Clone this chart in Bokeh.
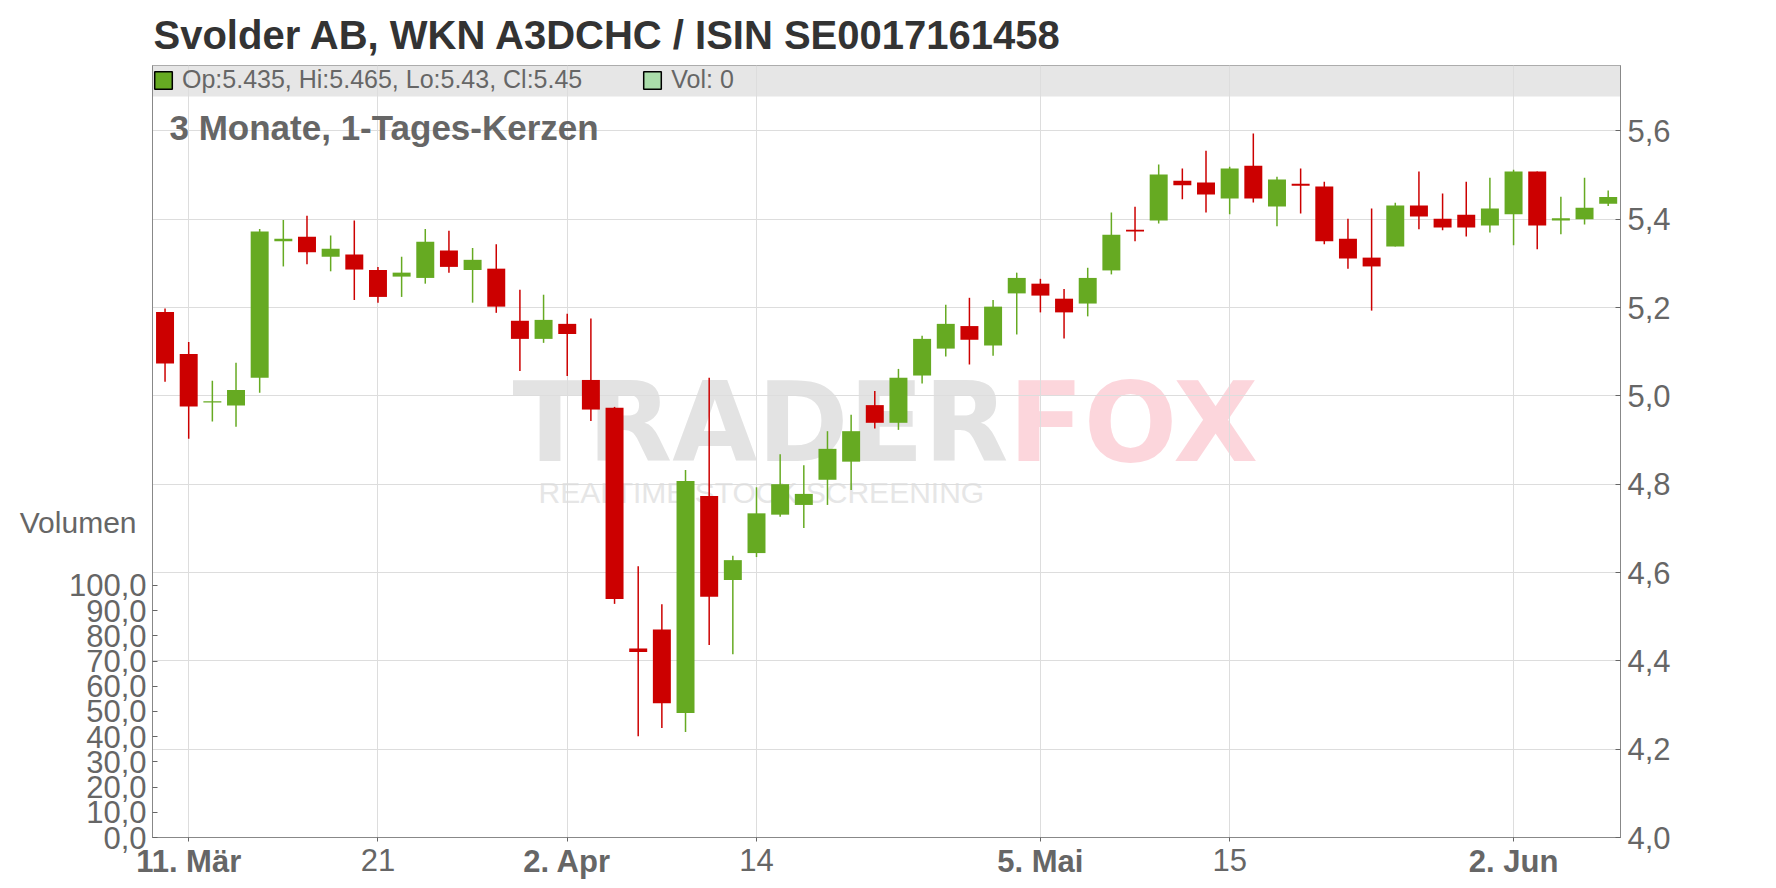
import pandas as pd
from bokeh.plotting import figure
from bokeh.models import (ColumnDataSource, Range1d, LinearAxis, FixedTicker,
                          CustomJSTickFormatter, Label, BoxAnnotation, Legend, LegendItem)
from bokeh.embed import file_html
from bokeh.resources import INLINE

# ---------------- data ----------------
holidays = ["2025-04-18", "2025-04-21", "2025-05-01"]
dates = [d for d in pd.bdate_range("2025-03-10", "2025-06-06")
         if d.strftime("%Y-%m-%d") not in holidays]

open_ = [5.190, 5.095, 4.985, 4.978, 5.041, 5.350, 5.360, 5.315, 5.320, 5.285,
         5.270, 5.267, 5.329, 5.285, 5.288, 5.170, 5.129, 5.163, 5.036, 4.973,
         4.428, 4.471, 4.282, 4.773, 4.583, 4.644, 4.731, 4.753, 4.810, 4.851,
         4.979, 4.939, 5.046, 5.107, 5.158, 5.114, 5.232, 5.254, 5.220, 5.209,
         5.284, 5.376, 5.397, 5.487, 5.483, 5.447, 5.521, 5.429, 5.480, 5.474,
         5.356, 5.313, 5.338, 5.431, 5.401, 5.410, 5.386, 5.411, 5.508, 5.397,
         5.400, 5.435]
high = [5.198, 5.122, 5.034, 5.075, 5.378, 5.398, 5.408, 5.363, 5.397, 5.292,
        5.315, 5.378, 5.374, 5.335, 5.343, 5.240, 5.229, 5.186, 5.175, 4.975,
        4.614, 4.528, 4.832, 5.041, 4.638, 4.793, 4.868, 4.843, 4.920, 4.957,
        5.011, 5.061, 5.136, 5.206, 5.222, 5.217, 5.279, 5.265, 5.242, 5.290,
        5.415, 5.428, 5.524, 5.515, 5.555, 5.519, 5.594, 5.496, 5.515, 5.485,
        5.401, 5.424, 5.437, 5.508, 5.458, 5.485, 5.494, 5.512, 5.508, 5.451,
        5.494, 5.465]
low = [5.032, 4.903, 4.942, 4.930, 5.007, 5.293, 5.298, 5.282, 5.217, 5.211,
       5.224, 5.254, 5.279, 5.211, 5.188, 5.056, 5.120, 5.045, 4.943, 4.529,
       4.229, 4.248, 4.239, 4.436, 4.415, 4.635, 4.726, 4.701, 4.753, 4.787,
       4.926, 4.923, 5.028, 5.089, 5.071, 5.091, 5.139, 5.189, 5.130, 5.180,
       5.275, 5.350, 5.390, 5.445, 5.415, 5.411, 5.438, 5.384, 5.413, 5.343,
       5.288, 5.193, 5.338, 5.377, 5.375, 5.361, 5.370, 5.341, 5.332, 5.366,
       5.388, 5.430]
close = [5.073, 4.976, 4.988, 5.013, 5.372, 5.356, 5.325, 5.333, 5.286, 5.224,
         5.279, 5.349, 5.292, 5.308, 5.202, 5.129, 5.172, 5.140, 4.969, 4.540,
         4.420, 4.304, 4.807, 4.545, 4.628, 4.734, 4.800, 4.778, 4.880, 4.920,
         4.939, 5.041, 5.129, 5.163, 5.127, 5.202, 5.267, 5.227, 5.189, 5.267,
         5.365, 5.372, 5.501, 5.477, 5.456, 5.515, 5.447, 5.490, 5.476, 5.350,
         5.311, 5.293, 5.431, 5.406, 5.381, 5.381, 5.424, 5.508, 5.386, 5.402,
         5.426, 5.450]
volume = [0] * len(open_)

price_ticks = [4.0, 4.2, 4.4, 4.6, 4.8, 5.0, 5.2, 5.4, 5.6]
volume_ticks = [0, 10, 20, 30, 40, 50, 60, 70, 80, 90, 100]
tick_idx = [1, 9, 17, 25, 37, 45, 57]
tick_text = ["11. Mär", "21", "2. Apr", "14", "5. Mai", "15", "2. Jun"]
tick_bold = [True, False, True, False, True, False, True]

title_text = "Svolder AB, WKN A3DCHC / ISIN SE0017161458"
subtitle_text = "3 Monate, 1-Tages-Kerzen"
volume_title = "Volumen"
volume_title_at = 125

# ---------------- styling ----------------
UP = "#66aa22"
DOWN = "#cc0000"
FONT = "Liberation Sans"
GREY_TXT = "#666666"

n = len(open_)
idx = list(range(n))
colors = [UP if c >= o else DOWN for o, c in zip(open_, close)]
src = ColumnDataSource(dict(
    x=idx, date=[d.strftime("%Y-%m-%d") for d in dates],
    open=open_, high=high, low=low, close=close, vol=volume,
    top=[max(o, c) for o, c in zip(open_, close)],
    bottom=[min(o, c) for o, c in zip(open_, close)],
    color=colors,
))

p = figure(width=1776, height=888,
           x_range=Range1d(-0.53, 61.52), y_range=Range1d(4.0, 5.748),
           y_axis_location="right", output_backend="svg", toolbar_location=None,
           min_border_left=152, min_border_right=156, min_border_top=65,
           min_border_bottom=51)
p.extra_y_ranges = {"vol": Range1d(0, 306.3)}

p.background_fill_color = "white"
p.border_fill_color = "white"
p.outline_line_color = "#999999"

# title
p.title.text = title_text
p.title.text_font = FONT
p.title.text_font_size = "40px"
p.title.text_font_style = "bold"
p.title.text_color = "#333333"
p.title.align = "left"
p.title.offset = 1
p.title.standoff = 17

# legend bar (grey band at top)
band = BoxAnnotation(bottom=741, bottom_units="screen", fill_color="#e6e6e6",
                     fill_alpha=1.0, line_color=None, level="image")
p.add_layout(band)

# grids
p.xgrid.ticker = FixedTicker(ticks=tick_idx)
p.ygrid.ticker = FixedTicker(ticks=price_ticks)
p.xgrid.grid_line_color = "#dddddd"
p.ygrid.grid_line_color = "#dddddd"

# watermark
wm = dict(x_units="screen", y_units="screen", level="image", text_baseline="alphabetic",
          text_font_style="bold", text_font="DejaVu Sans", text_font_size="110px")
p.add_layout(Label(x=360, y=415, text="TRADER", text_color="#e3e3e3", **wm))
p.add_layout(Label(x=856, y=415, text="FOX", text_color="#fcd6dc", **wm))
p.add_layout(Label(x=386, y=345, text="REALTIME STOCK SCREENING", x_units="screen",
                   y_units="screen", level="image", text_font=FONT,
                   text_baseline="alphabetic",
                   text_font_size="30px", text_color="#e6e6e6"))

# volume (all zero)
p.vbar(x="x", top="vol", bottom=0, width=0.76, source=src, y_range_name="vol",
       fill_color="#aaddaa", line_color=None)

# candles
p.segment(x0="x", y0="low", x1="x", y1="high", source=src, line_color="color",
          line_width=1.5)
p.vbar(x="x", top="top", bottom="bottom", width=0.76, source=src,
       fill_color="color", line_color=None)

fmt_code = "return tick.toFixed(1).replace('.', ',');"

# price axis (right)
ax = p.yaxis[0]
ax.ticker = FixedTicker(ticks=price_ticks)
ax.formatter = CustomJSTickFormatter(code=fmt_code)
ax.major_label_text_font = FONT
ax.major_label_text_font_size = "31px"
ax.major_label_text_color = GREY_TXT
ax.major_label_standoff = 7
ax.major_tick_in = 5
ax.major_tick_out = 0
ax.minor_tick_line_color = None
ax.axis_line_color = "#888888"
ax.major_tick_line_color = "#666666"

# volume axis (left)
vax = LinearAxis(y_range_name="vol", ticker=FixedTicker(ticks=volume_ticks),
                 formatter=CustomJSTickFormatter(code=fmt_code))
vax.major_label_text_font = FONT
vax.major_label_text_font_size = "31px"
vax.major_label_text_color = GREY_TXT
vax.major_label_standoff = 6
vax.major_tick_in = 5
vax.major_tick_out = 0
vax.minor_tick_line_color = None
vax.axis_line_color = "#888888"
vax.major_tick_line_color = "#666666"
p.add_layout(vax, "left")

# "Volumen" caption (outer left axis, pulled in over the volume labels)
cax = LinearAxis(y_range_name="vol", ticker=FixedTicker(ticks=[volume_title_at]),
                 formatter=CustomJSTickFormatter(code=f"return '{volume_title}';"))
cax.major_label_text_font = FONT
cax.major_label_text_font_size = "30px"
cax.major_label_text_color = GREY_TXT
cax.major_label_standoff = -71
cax.major_tick_in = 0
cax.major_tick_out = 0
cax.major_tick_line_color = None
cax.minor_tick_line_color = None
cax.axis_line_color = None
p.add_layout(cax, "left")

# x axis: regular day labels
xa = p.xaxis[0]
xa.ticker = FixedTicker(ticks=tick_idx)
xa.major_label_overrides = {i: ("" if b else t) for i, t, b in zip(tick_idx, tick_text, tick_bold)}
xa.major_label_text_font = FONT
xa.major_label_text_font_size = "31px"
xa.major_label_text_color = GREY_TXT
xa.major_label_standoff = 7
xa.major_tick_in = 0
xa.major_tick_out = 4
xa.minor_tick_line_color = None
xa.axis_line_color = "#888888"
xa.major_tick_line_color = "#666666"

# x axis: bold month labels (second axis pulled up onto the first)
xb = LinearAxis(ticker=FixedTicker(ticks=[i for i, b in zip(tick_idx, tick_bold) if b]))
xb.major_label_overrides = {i: t for i, t, b in zip(tick_idx, tick_text, tick_bold) if b}
xb.major_label_text_font = FONT
xb.major_label_text_font_size = "31px"
xb.major_label_text_font_style = "bold"
xb.major_label_text_color = GREY_TXT
xb.major_label_standoff = -34
xb.major_tick_in = 0
xb.major_tick_out = 4
xb.major_tick_line_color = None
xb.minor_tick_line_color = None
xb.axis_line_color = None
p.add_layout(xb, "below")

# subtitle
p.add_layout(Label(x=17, y=710, x_units="screen", y_units="screen", text=subtitle_text,
                   text_font=FONT, text_font_size="35px", text_font_style="bold",
                   text_color=GREY_TXT, text_baseline="alphabetic"))

# legend (last candle values)
nan = float("nan")
dummy1 = p.quad(left=[nan], right=[nan], top=[nan], bottom=[nan], fill_color=UP,
                line_color="black", line_width=1.5)
dummy2 = p.quad(left=[nan], right=[nan], top=[nan], bottom=[nan], fill_color="#aaddaa",
                line_color="black", line_width=1.5)
leg_text = f"Op:{open_[-1]}, Hi:{high[-1]}, Lo:{low[-1]}, Cl:{close[-1]}"
legend = Legend(items=[LegendItem(label=leg_text, renderers=[dummy1]),
                       LegendItem(label=f"Vol: {volume[-1]}", renderers=[dummy2])],
                orientation="horizontal", location="top_left", margin=0, padding=3,
                glyph_width=22, glyph_height=22, label_standoff=8, spacing=59,
                label_text_font=FONT, label_text_font_size="25px",
                label_text_color=GREY_TXT, background_fill_alpha=0,
                border_line_color=None)
p.add_layout(legend)

open("out.html", "w").write(file_html(p, INLINE))
